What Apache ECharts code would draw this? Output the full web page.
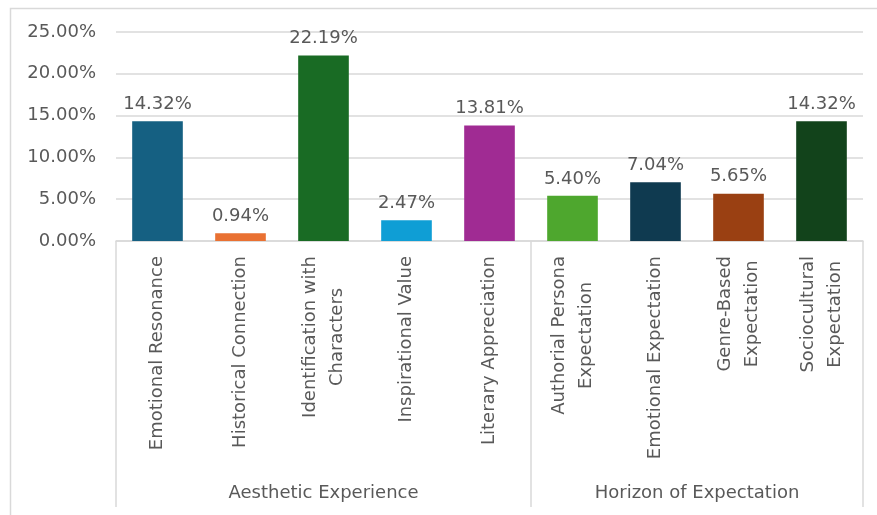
<!DOCTYPE html>
<html><head><meta charset="utf-8">
<script src="https://cdn.jsdelivr.net/npm/echarts@6/dist/echarts.min.js"></script>
<style>html,body{margin:0;padding:0;background:#fff;overflow:hidden}#c{width:877px;height:515px}</style>
</head><body><div id="c"></div>
<script>
const categories = ['Emotional Resonance','Historical Connection','Identification with\nCharacters','Inspirational Value','Literary Appreciation','Authorial Persona\nExpectation','Emotional Expectation','Genre-Based\nExpectation','Sociocultural\nExpectation'];
const values = [14.32, 0.94, 22.19, 2.47, 13.81, 5.40, 7.04, 5.65, 14.32];
const groups = ['Aesthetic Experience', 'Horizon of Expectation'];
const groupSizes = [5, 4];
const yTicks = [0, 5, 10, 15, 20, 25];
const barColors = ['#156082','#E97132','#196B24','#0F9ED5','#A02B93','#4EA72E','#0F3A50','#9A4012','#12431B'];

const FONT = 'DejaVu Sans';
const TXT = '#595959';
const LINE = '#d9d9d9';

// group boundaries and centers in category units
const bounds = [0];
groupSizes.forEach(s => bounds.push(bounds[bounds.length - 1] + s));
const centers = groupSizes.map((s, i) => bounds[i] + s / 2);

const chart = echarts.init(document.getElementById('c'));
chart.setOption({
  animation: false,
  textStyle: { fontFamily: FONT },
  graphic: [{
    type: 'rect', left: 8, top: 6, shape: { width: 1200, height: 1200 },
    style: { fill: 'none', stroke: LINE, lineWidth: 1.5 }, silent: true, z: -1
  }],
  grid: { left: 116, right: 14, top: 32, bottom: 274, containLabel: false, outerBoundsMode: 'none' },
  xAxis: [{
    type: 'category', data: categories, position: 'bottom',
    axisLine: { show: true, lineStyle: { color: LINE, width: 1.5 } },
    axisTick: { show: false },
    axisLabel: {
      interval: 0, rotate: 90, margin: 15, color: TXT, fontSize: 18, fontFamily: FONT,
      lineHeight: 27,
      formatter: v => v.split('\n').map(s => '{c|' + s + '}').join('\n'),
      rich: { c: { align: 'center', fontSize: 18, color: TXT, fontFamily: FONT, lineHeight: 27 } }
    }
  }, {
    type: 'value', position: 'bottom', min: 0, max: categories.length,
    axisLine: { show: false },
    splitLine: { show: false },
    axisTick: { show: true, customValues: bounds, length: 266, inside: false, lineStyle: { color: LINE, width: 1.5 } },
    axisLabel: {
      customValues: centers, margin: 243, color: TXT, fontSize: 18, fontFamily: FONT,
      formatter: v => { const i = centers.indexOf(v); return i >= 0 ? groups[i] : ''; }
    }
  }],
  yAxis: {
    type: 'value', min: yTicks[0], max: yTicks[yTicks.length - 1], interval: yTicks[1] - yTicks[0],
    axisLine: { show: false }, axisTick: { show: false },
    splitLine: { lineStyle: { color: LINE, width: 1.5 } },
    axisLabel: { margin: 20, color: TXT, fontSize: 18, fontFamily: FONT, formatter: v => v.toFixed(2) + '%' }
  },
  series: [{
    type: 'bar', xAxisIndex: 0, data: values, barWidth: '61%',
    colorBy: 'data', color: barColors,
    label: { show: true, position: 'top', distance: 8, color: TXT, fontSize: 18, fontFamily: FONT,
      formatter: p => p.value.toFixed(2) + '%' }
  }]
});
</script></body></html>
